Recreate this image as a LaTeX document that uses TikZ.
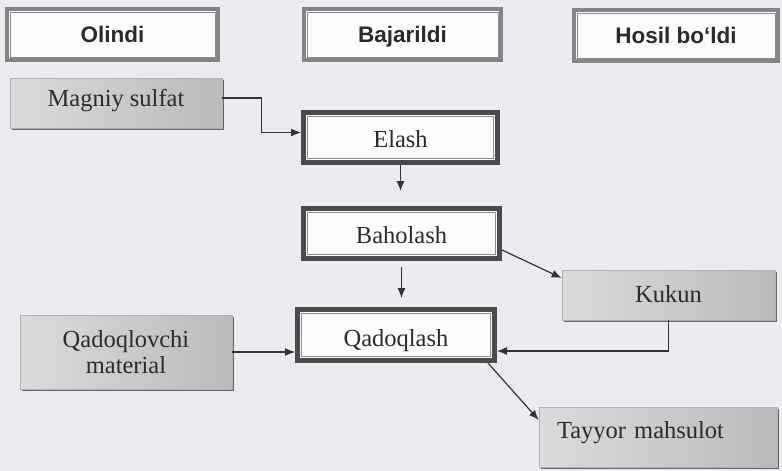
\documentclass[tikz,border=0pt]{standalone}
\usepackage{fontspec}
\setmainfont{Liberation Serif}
\newfontfamily\hdrfont{Liberation Sans}
\usetikzlibrary{arrows.meta,calc,shadows}
\definecolor{bgc}{HTML}{EBEBF1}
\definecolor{txt}{HTML}{2B2B2B}
\definecolor{hband}{HTML}{858585}
\definecolor{pband}{HTML}{4A4A4A}
\definecolor{lnc}{HTML}{333333}
\tikzset{
  hdrbox/.style={draw=hband, line width=4pt, fill=white!92!bgc, minimum width=#1, minimum height=51pt, inner sep=0pt,
    text height=18pt, text depth=3pt,
    font=\hdrfont\bfseries\fontsize{22.5}{24}\selectfont, text=txt},
  procbox/.style={draw=pband, line width=5pt, fill=white!90!bgc, minimum width=#1, minimum height=50pt, inner sep=0pt,
    text height=22pt, text depth=3pt,
    font=\fontsize{24.5}{26}\selectfont, text=txt},
  graybox/.style={draw=black!30, line width=0.6pt, left color=black!14, right color=black!27,
    drop shadow={shadow xshift=2pt, shadow yshift=-2pt, fill=black!60, opacity=1},
    minimum width=#1, inner sep=0pt, font=\fontsize{24.5}{26}\selectfont, text=txt, align=center},
  innerln/.style={draw=black!45, line width=0.8pt},
  arr/.style={draw=lnc, line width=1.2pt, -{Latex[length=10pt,width=8pt]}},
}
\begin{document}
\begin{tikzpicture}[x=1pt,y=1pt]
\fill[bgc] (0,0) rectangle (782,-471);
\useasboundingbox (0,0) rectangle (782,-471);
% headers
\node[hdrbox=211pt] (h1) at (112.5,-34.5) {Olindi};
\node[hdrbox=197pt] (h2) at (402.5,-34.5) {Bajarildi};
\node[hdrbox=204pt] (h3) at (676,-35.5) {Hosil bo‘ldi};
% process boxes
\node[procbox=194pt] (elash) at (400.5,-137.5) {Elash};
\node[procbox=196pt] (bah) at (401.5,-233.5) {Baholash};
\node[procbox=197pt, minimum height=51pt, text height=24pt, text depth=2pt] (qad) at (396,-335) {Qadoqlash};
% gray boxes
\node[graybox=212pt, minimum height=50pt, text height=16pt, text depth=10pt] (mag) at (116,-103) {Magniy sulfat};
\node[graybox=213pt, minimum height=50pt, text height=18pt, text depth=4pt] (kuk) at (668.5,-295) {Kukun};
\node[graybox=212pt, minimum height=74pt] (qadm) at (126,-352) {Qadoqlovchi\\material};
\node[graybox=238pt, minimum height=60pt, text width=202pt, align=left, inner xsep=18pt, text height=16pt, text depth=14pt] (tay) at (658,-437) {Tayyor mahsulot};
% inner lines
\foreach \n in {h1,h2,h3} {
  \draw[innerln] ($(\n.north west)+(5pt,-5pt)$) rectangle ($(\n.south east)+(-5pt,5pt)$);
}
\foreach \n in {elash,bah,qad} {
  \draw[innerln] ($(\n.north west)+(6.5pt,-6.5pt)$) rectangle ($(\n.south east)+(-6.5pt,6.5pt)$);
}
% connectors
\draw[arr] ([yshift=5pt]mag.east) -- ++(39,0) |- ([yshift=5pt]elash.west);
\draw[arr, shorten >=15pt] (elash.south) -- (elash.south |- bah.north);
\draw[arr, shorten <=6pt, shorten >=9pt] (bah.south) -- (bah.south |- qad.north);
\draw[arr] ([yshift=-16.5pt]bah.east) -- ([yshift=17pt]kuk.west);
\draw[arr] (kuk.south) |- ([yshift=-16pt]qad.east);
\draw[arr] (qadm.east) -- (qadm.east -| qad.west);
\draw[arr] ([xshift=-9pt]qad.south east) -- ([yshift=17pt]tay.west);
\end{tikzpicture}
\end{document}
